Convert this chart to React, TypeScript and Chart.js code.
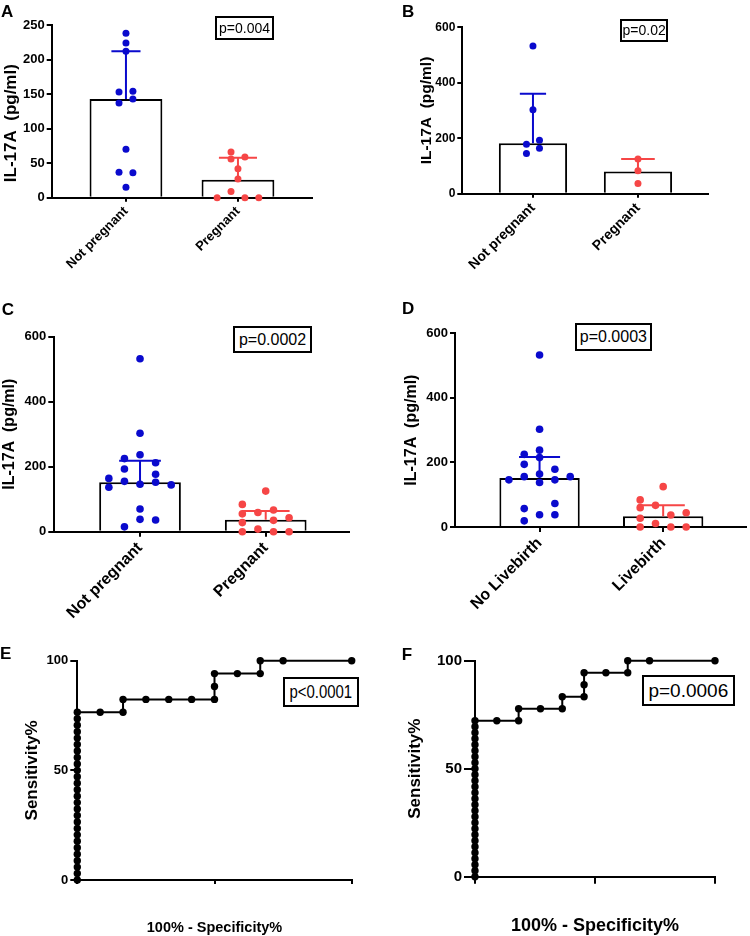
import React, { useEffect, useRef } from "react";
import { Chart, registerables } from "chart.js";
Chart.register(...registerables);

const BLUE = "#0a0acd";
const RED = "#f64646";
const SANS = "'Liberation Sans', Arial, sans-serif";
const JITTER = 0.062;

// ---------- Panel A ----------
const catsA = ["Not pregnant", "Pregnant"];
const aBlueVals = [238, 224, 212, 153, 154, 137, 143, 70, 37, 36, 15];
const aBlueCols = [0, 0, 0, -1, 1, -1, 1, 0, -1, 1, 0];
const aRedVals = [66, 56, 59, 42, 27, 9, 0, 0, 0];
const aRedCols = [-1, -1, 1, 0, 0, -1, -3, 1, 3];
const aMedians = [143, 26];
const aUpper = [212, 58];

// ---------- Panel B ----------
const catsB = ["Not pregnant", "Pregnant"];
const bBlueVals = [533, 303, 193, 178, 164, 145];
const bBlueCols = [0, 0, 1, -1, 1, -1];
const bRedVals = [125, 83, 37];
const bRedCols = [0, 0, 0];
const bMedians = [182, 80];
const bUpper = [360, 125];

// ---------- Panel C ----------
const catsC = ["Not pregnant", "Pregnant"];
const cBlueVals = [532, 303, 237, 225, 212, 193, 177, 164, 137, 155, 146, 152, 144, 70, 38, 36, 15];
const cBlueCols = [0, 0, 0, -2, 2, -2, 2, -4, -4, -2, 0, 2, 4, 0, 0, 2, -2];
const cRedVals = [125, 84, 55, 59, 67, 28, 35, 43, 8, 0, 0, 0];
const cRedCols = [0, -3, -3, -1, 1, -3, 1, 3, -1, -3, 1, 3];
const cMedians = [152, 37];
const cUpper = [218, 64];

// ---------- Panel D ----------
const catsD = ["No Livebirth", "Livebirth"];
const dBlueVals = [533, 303, 238, 225, 215, 194, 179, 164, 156, 156, 146, 138, 146, 73, 57, 38, 38, 19];
const dBlueCols = [0, 0, 0, -2, 0, -2, 2, 0, -2, 4, -4, 0, 2, 2, -2, 0, 2, -2];
const dRedVals = [125, 84, 67, 60, 44, 37, 27, 11, 0, 0, 0];
const dRedCols = [0, -3, -1, -3, 3, 1, -3, -1, -3, 1, 3];
const dMedians = [152, 33];
const dUpper = [217, 67];

// ---------- Panel E (ROC) ----------
const eX = [0, 0, 0, 0, 0, 0, 0, 0, 0, 0, 0, 0, 0, 0, 0, 0, 0, 0, 0, 0, 0, 0, 0, 0, 0, 0, 0,
  8.33, 16.67, 16.67, 25, 33.33, 41.67, 50, 50, 50, 58.33, 66.67, 66.67, 75, 100];
const eY = [0, 2.94, 5.88, 8.82, 11.76, 14.71, 17.65, 20.59, 23.53, 26.47, 29.41, 32.35, 35.29, 38.24,
  41.18, 44.12, 47.06, 50, 52.94, 55.88, 58.82, 61.76, 64.71, 67.65, 70.59, 73.53, 76.47,
  76.47, 76.47, 82.35, 82.35, 82.35, 82.35, 82.35, 88.24, 94.12, 94.12, 94.12, 100, 100, 100];

// ---------- Panel F (ROC) ----------
const fX = [0, 0, 0, 0, 0, 0, 0, 0, 0, 0, 0, 0, 0, 0, 0, 0, 0, 0, 0, 0, 0, 0, 0, 0, 0, 0, 0,
  9.09, 18.18, 18.18, 27.27, 36.36, 36.36, 45.45, 45.45, 45.45, 54.55, 63.64, 63.64, 72.73, 100];
const fY = [0, 2.78, 5.56, 8.33, 11.11, 13.89, 16.67, 19.44, 22.22, 25, 27.78, 30.56, 33.33, 36.11,
  38.89, 41.67, 44.44, 47.22, 50, 52.78, 55.56, 58.33, 61.11, 63.89, 66.67, 69.44, 72.22,
  72.22, 72.22, 77.78, 77.78, 77.78, 83.33, 83.33, 88.89, 94.44, 94.44, 94.44, 100, 100, 100];

const rocTicks = [0, 50, 100];

type BarPanel = {
  box: number[];
  pad: { left: number; top: number; right: number; bottom: number };
  yW: number; xH: number; title: string; titleSize: number; titlePad: number;
  tickSize: number; catSize: number; yTickLen: number; xTickLen: number;
  yMax: number; yStep: number; xMin: number; xMax: number; r: number;
  cats: string[]; blueVals: number[]; blueCols: number[]; redVals: number[]; redCols: number[];
  medians: number[]; upper: number[]; caps: number[];
};

function barConfig(p: BarPanel): any {
  const pts = (vals: number[], cols: number[], cat: number) =>
    vals.map((v, i) => ({ x: cat + cols[i] * JITTER, y: v }));
  const err = (cat: number) => [
    { x: cat, y: p.medians[cat] },
    { x: cat, y: p.upper[cat] },
    { x: cat - p.caps[cat], y: p.upper[cat] },
    { x: cat + p.caps[cat], y: p.upper[cat] },
  ];
  return {
    type: "bar",
    data: {
      datasets: [
        {
          type: "bar",
          data: p.medians.map((m, i) => ({ x: i, y: m })),
          backgroundColor: "#ffffff",
          borderColor: "#000000",
          borderWidth: 2,
          barPercentage: 0.65,
          categoryPercentage: 1,
          order: 3,
        },
        { type: "scatter", data: err(0), showLine: true, borderColor: BLUE, borderWidth: 2, pointRadius: 0, order: 2, clip: false },
        { type: "scatter", data: err(1), showLine: true, borderColor: RED, borderWidth: 2, pointRadius: 0, order: 2, clip: false },
        { type: "scatter", data: pts(p.blueVals, p.blueCols, 0), pointRadius: p.r, pointBackgroundColor: BLUE, pointBorderWidth: 0, order: 1, clip: false },
        { type: "scatter", data: pts(p.redVals, p.redCols, 1), pointRadius: p.r, pointBackgroundColor: RED, pointBorderWidth: 0, order: 1, clip: false },
      ],
    },
    options: {
      responsive: false,
      animation: false,
      layout: { padding: p.pad },
      plugins: { legend: { display: false }, tooltip: { enabled: false } },
      scales: {
        x: {
          type: "linear",
          min: p.xMin,
          max: p.xMax,
          offset: false,
          afterBuildTicks: (s: any) => { s.ticks = [{ value: 0 }, { value: 1 }]; },
          afterFit: (s: any) => { s.height = p.xH; },
          grid: { display: true, drawOnChartArea: false, drawTicks: true, tickLength: p.xTickLen, color: "#000", lineWidth: 2, offset: false },
          border: { display: true, color: "#000", width: 2 },
          ticks: {
            autoSkip: false, maxRotation: 45, minRotation: 45, padding: 2, color: "#000",
            font: { family: SANS, size: p.catSize, weight: "bold" },
            callback: (v: any) => p.cats[v],
          },
        },
        y: {
          type: "linear",
          min: 0,
          max: p.yMax,
          afterFit: (s: any) => { s.width = p.yW; },
          ticks: { stepSize: p.yStep, padding: 2, color: "#000", font: { family: SANS, size: p.tickSize, weight: "bold" } },
          grid: { display: true, drawOnChartArea: false, drawTicks: true, tickLength: p.yTickLen, color: "#000", lineWidth: 2 },
          border: { display: true, color: "#000", width: 2 },
          title: {
            display: true, text: p.title, color: "#000",
            font: { family: SANS, size: p.titleSize, weight: "bold" },
            padding: { top: p.titlePad, bottom: 0 },
          },
        },
      },
    },
  };
}

type RocPanel = {
  pad: { left: number; top: number; right: number; bottom: number };
  yW: number; xH: number; yTitleSize: number; yTitlePad: number;
  xTitleSize: number; xTitlePad: number;
  tickSize: number; yTickLen: number; xTickLen: number;
  xs: number[]; ys: number[];
};

function rocConfig(p: RocPanel): any {
  return {
    type: "scatter",
    data: {
      datasets: [
        {
          data: p.xs.map((x, i) => ({ x, y: p.ys[i] })),
          showLine: true,
          borderColor: "#000",
          borderWidth: 2,
          pointRadius: 3.7,
          pointBackgroundColor: "#000",
          pointBorderWidth: 0,
          clip: false,
        },
      ],
    },
    options: {
      responsive: false,
      animation: false,
      layout: { padding: p.pad },
      plugins: { legend: { display: false }, tooltip: { enabled: false } },
      scales: {
        x: {
          type: "linear", min: 0, max: 100,
          afterBuildTicks: (s: any) => { s.ticks = rocTicks.map((v) => ({ value: v })); },
          afterFit: (s: any) => { s.height = p.xH; },
          grid: { display: true, drawOnChartArea: false, drawTicks: true, tickLength: p.xTickLen, color: "#000", lineWidth: 2 },
          border: { display: true, color: "#000", width: 2 },
          ticks: { callback: () => "", padding: 0 },
          title: {
            display: true, text: "100% - Specificity%", color: "#000",
            font: { family: SANS, size: p.xTitleSize, weight: "bold" },
            padding: { top: 0, bottom: p.xTitlePad },
          },
        },
        y: {
          type: "linear", min: 0, max: 100,
          afterBuildTicks: (s: any) => { s.ticks = rocTicks.map((v) => ({ value: v })); },
          afterFit: (s: any) => { s.width = p.yW; },
          grid: { display: true, drawOnChartArea: false, drawTicks: true, tickLength: p.yTickLen, color: "#000", lineWidth: 2 },
          border: { display: true, color: "#000", width: 2 },
          ticks: { padding: 2, color: "#000", font: { family: SANS, size: p.tickSize, weight: "bold" } },
          title: {
            display: true, text: "Sensitivity%", color: "#000",
            font: { family: SANS, size: p.yTitleSize, weight: "bold" },
            padding: { top: p.yTitlePad, bottom: 0 },
          },
        },
      },
    },
  };
}

const panelA: BarPanel = {
  box: [0, 0, 330, 300], pad: { left: 0, top: 25, right: 18, bottom: 0 },
  yW: 51.7, xH: 102.3, title: "IL-17A  (pg/ml)     ", titleSize: 17, titlePad: 1.5, tickSize: 13, catSize: 13, yTickLen: 5, xTickLen: 4,
  yMax: 250, yStep: 50, xMin: -0.663, xMax: 1.661, r: 3.5,
  cats: catsA, blueVals: aBlueVals, blueCols: aBlueCols, redVals: aRedVals, redCols: aRedCols,
  medians: aMedians, upper: aUpper, caps: [0.13, 0.17],
};
const panelB: BarPanel = {
  box: [375, 0, 375, 300], pad: { left: 0, top: 27.3, right: 42, bottom: 0 },
  yW: 87.3, xH: 106.3, title: "IL-17A  (pg/ml)", titleSize: 15.5, titlePad: 42.4, tickSize: 12, catSize: 14, yTickLen: 5, xTickLen: 4,
  yMax: 600, yStep: 200, xMin: -0.673, xMax: 1.667, r: 3.5,
  cats: catsB, blueVals: bBlueVals, blueCols: bBlueCols, redVals: bRedVals, redCols: bRedCols,
  medians: bMedians, upper: bUpper, caps: [0.125, 0.16],
};
const panelC: BarPanel = {
  box: [0, 300, 375, 350], pad: { left: 0, top: 36.7, right: 25.7, bottom: 0 },
  yW: 54.3, xH: 118.3, title: "IL-17A  (pg/ml)", titleSize: 16, titlePad: 0.4, tickSize: 13, catSize: 16, yTickLen: 6, xTickLen: 5,
  yMax: 600, yStep: 200, xMin: -0.682, xMax: 1.665, r: 3.8,
  cats: catsC, blueVals: cBlueVals, blueCols: cBlueCols, redVals: cRedVals, redCols: cRedCols,
  medians: cMedians, upper: cUpper, caps: [0.166, 0.19],
};
const panelD: BarPanel = {
  box: [375, 300, 375, 350], pad: { left: 0, top: 33.3, right: 0, bottom: 0 },
  yW: 80, xH: 123, title: "IL-17A  (pg/ml)", titleSize: 16, titlePad: 27.4, tickSize: 13, catSize: 16, yTickLen: 5, xTickLen: 5,
  yMax: 600, yStep: 200, xMin: -0.684, xMax: 1.67, r: 3.8,
  cats: catsD, blueVals: dBlueVals, blueCols: dBlueCols, redVals: dRedVals, redCols: dRedCols,
  medians: dMedians, upper: dUpper, caps: [0.166, 0.175],
};
const panelE: RocPanel = {
  pad: { left: 0, top: 60.7, right: 23.3, bottom: 0 },
  yW: 77.3, xH: 60, yTitleSize: 17, yTitlePad: 22.6, xTitleSize: 14.5, xTitlePad: 3,
  tickSize: 13, yTickLen: 7, xTickLen: 4, xs: eX, ys: eY,
};
const panelF: RocPanel = {
  pad: { left: 0, top: 60.7, right: 35, bottom: 0 },
  yW: 100, xH: 63.3, yTitleSize: 17, yTitlePad: 29.8, xTitleSize: 18, xTitlePad: 3.2,
  tickSize: 15, yTickLen: 11, xTickLen: 7, xs: fX, ys: fY,
};

function ChartCanvas({ box, make }: { box: number[]; make: () => any }) {
  const ref = useRef<HTMLCanvasElement>(null);
  useEffect(() => {
    const chart = new Chart(ref.current as HTMLCanvasElement, make());
    return () => chart.destroy();
  }, []);
  return (
    <canvas
      ref={ref}
      width={box[2]}
      height={box[3]}
      style={{ position: "absolute", left: box[0], top: box[1], width: box[2], height: box[3] }}
    />
  );
}

function Letter({ text, x, capTop }: { text: string; x: number; capTop: number }) {
  return (
    <div style={{ position: "absolute", left: x, top: capTop - 2.2, fontFamily: SANS, fontWeight: "bold", fontSize: 17, lineHeight: "17px" }}>
      {text}
    </div>
  );
}

function PBox({ text, x, y, w, h, size, sx }: { text: string; x: number; y: number; w: number; h: number; size: number; sx: number }) {
  return (
    <div
      style={{
        position: "absolute", left: x, top: y, width: w, height: h, boxSizing: "border-box",
        border: "2px solid #000", display: "flex", alignItems: "center", justifyContent: "center",
        fontFamily: SANS, fontSize: size, lineHeight: 1, background: "#fff", whiteSpace: "nowrap",
      }}
    >
      <span style={{ display: "inline-block", transform: `scaleX(${sx})` }}>{text}</span>
    </div>
  );
}

export default function App() {
  return (
    <div style={{ position: "absolute", left: 0, top: 0, width: 750, height: 936, overflow: "hidden", background: "#fff" }}>
      <ChartCanvas box={panelA.box} make={() => barConfig(panelA)} />
      <ChartCanvas box={panelB.box} make={() => barConfig(panelB)} />
      <ChartCanvas box={panelC.box} make={() => barConfig(panelC)} />
      <ChartCanvas box={panelD.box} make={() => barConfig(panelD)} />
      <ChartCanvas box={[0, 600, 375, 340]} make={() => rocConfig(panelE)} />
      <ChartCanvas box={[375, 600, 375, 340]} make={() => rocConfig(panelF)} />
      <Letter text="A" x={1} capTop={5} />
      <Letter text="B" x={402} capTop={5} />
      <Letter text="C" x={1.7} capTop={302.7} />
      <Letter text="D" x={402} capTop={301.7} />
      <Letter text="E" x={0} capTop={646.7} />
      <Letter text="F" x={401.7} capTop={647.7} />
      <PBox text="p=0.004" x={215} y={16} w={59} h={24} size={14} sx={1} />
      <PBox text="p=0.02" x={620} y={19.3} w={48.3} h={22.4} size={14} sx={1} />
      <PBox text="p=0.0002" x={233.3} y={326} w={78.4} h={27.3} size={16} sx={1} />
      <PBox text="p=0.0003" x={575} y={322.7} w={76.7} h={28} size={16} sx={1} />
      <PBox text="p<0.0001" x={282.7} y={677.3} w={76.6} h={30} size={18} sx={0.83} />
      <PBox text="p=0.0006" x={641.7} y={675} w={93.3} h={30.7} size={19} sx={1} />
    </div>
  );
}
